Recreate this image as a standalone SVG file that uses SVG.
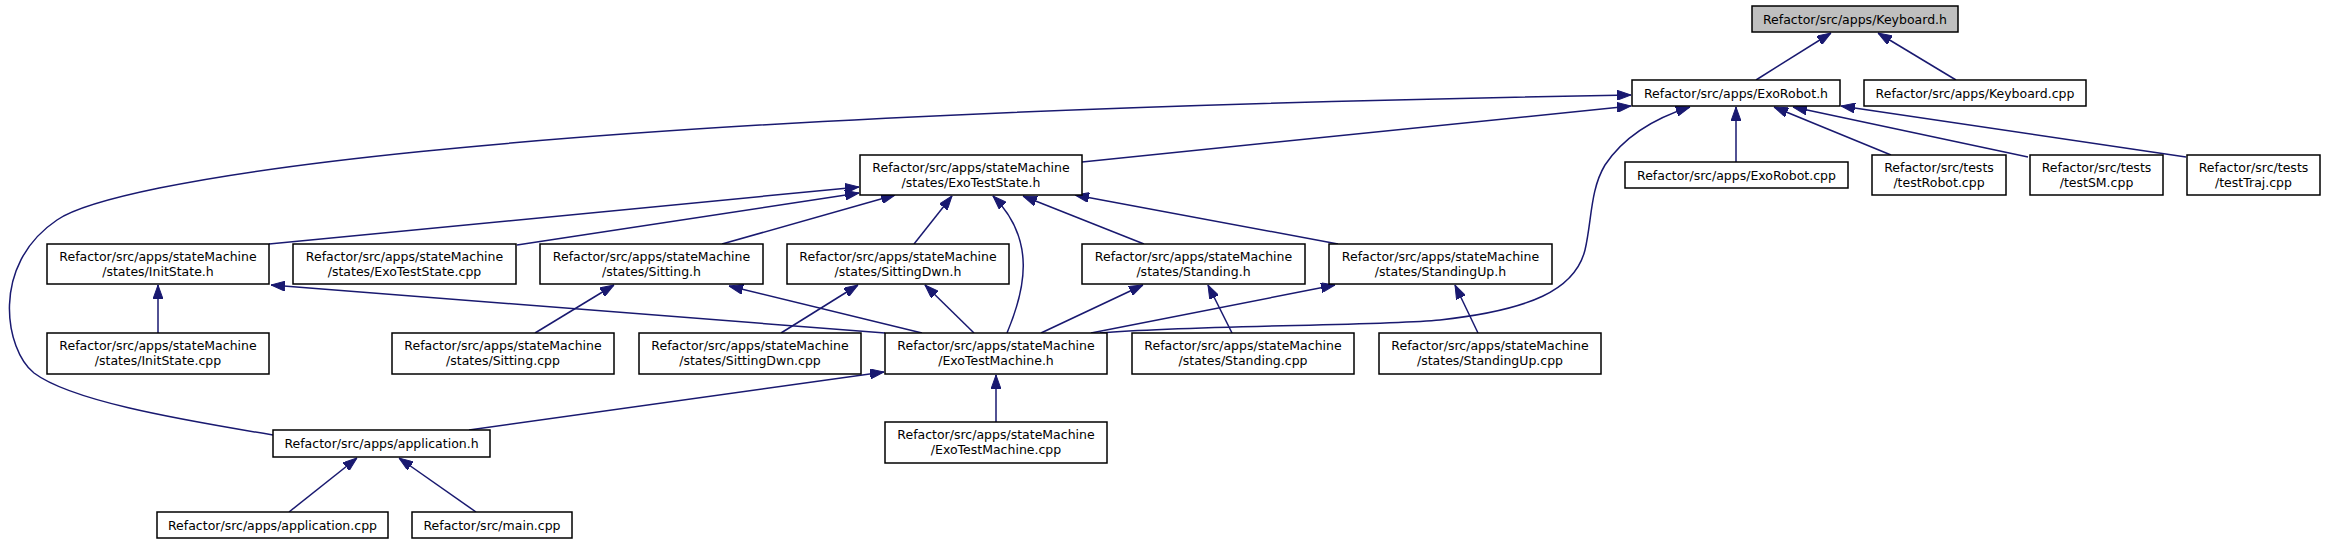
<svg xmlns="http://www.w3.org/2000/svg" width="2326" height="544" viewBox="0 0 2326 544">
<style>
.n rect{fill:#fff;stroke:#000;stroke-width:1.5}
.n.g rect{fill:#bfbfbf}
.n text{font-family:"DejaVu Sans",sans-serif;font-size:12.5px;text-anchor:middle;fill:#000}
.e path{fill:none;stroke:#191970;stroke-width:1.5;marker-end:url(#a)}
</style>
<defs>
<marker id="a" viewBox="0 0 14 10" refX="14" refY="5" markerWidth="14" markerHeight="10" markerUnits="userSpaceOnUse" orient="auto">
<path d="M0,0 L14,5 L0,10 z" fill="#191970" stroke="#191970" stroke-width="1"/>
</marker>
</defs>
<rect width="2326" height="544" fill="#fff"/>
<g class="e" id="edges">
<path d="M1756,80 L1831,33"/>
<path d="M1956,80 L1878,33"/>
<path d="M273,435 C170,418 70,400 34,373 C5,350 -10,265 57,220 C110,184 450,115 1631,95"/>
<path d="M1082,162 L1631,106"/>
<path d="M1100,333 C1200,325 1380,326 1440,320 C1530,310 1575,290 1585,250 C1592,220 1590,190 1605,165 C1625,135 1655,118 1690,107"/>
<path d="M1736,162 L1736,107"/>
<path d="M1891,155 L1774,107"/>
<path d="M2028,157 L1793,107"/>
<path d="M2186,157 L1841,106"/>
<path d="M269,244 L859,187"/>
<path d="M517,245 L859,193"/>
<path d="M722,244 L895,195"/>
<path d="M914,244 L952,196"/>
<path d="M1007,333 C1025,290 1037,240 993,196"/>
<path d="M1144,244 L1023,196"/>
<path d="M1338,244 L1075,195"/>
<path d="M158,333 L158,285"/>
<path d="M885,333 L271,285"/>
<path d="M535,333 L614,285"/>
<path d="M922,333 L729,286"/>
<path d="M781,333 L858,285"/>
<path d="M974,333 L925,285"/>
<path d="M1041,333 L1143,285"/>
<path d="M1232,333 L1208,285"/>
<path d="M1091,333 L1335,285"/>
<path d="M1478,333 L1455,285"/>
<path d="M469,430 L884,372"/>
<path d="M996,422 L996,375"/>
<path d="M289,512 L357,458"/>
<path d="M476,512 L399,458"/>
</g>
<g class="n g" id="keyboard_h"><rect x="1752" y="6" width="206" height="26"/><text x="1855" y="23.5">Refactor/src/apps/Keyboard.h</text></g>
<g class="n" id="exorobot_h"><rect x="1632" y="80" width="208" height="26"/><text x="1736" y="97.5">Refactor/src/apps/ExoRobot.h</text></g>
<g class="n" id="keyboard_cpp"><rect x="1864" y="80" width="222" height="26"/><text x="1975" y="97.5">Refactor/src/apps/Keyboard.cpp</text></g>
<g class="n" id="exorobot_cpp"><rect x="1625" y="162" width="223" height="26"/><text x="1736.5" y="179.5">Refactor/src/apps/ExoRobot.cpp</text></g>
<g class="n" id="testrobot_cpp"><rect x="1872" y="155" width="134" height="40"/><text x="1939" y="172">Refactor/src/tests</text><text x="1939" y="187">/testRobot.cpp</text></g>
<g class="n" id="testsm_cpp"><rect x="2030" y="155" width="133" height="40"/><text x="2096.5" y="172">Refactor/src/tests</text><text x="2096.5" y="187">/testSM.cpp</text></g>
<g class="n" id="testtraj_cpp"><rect x="2187" y="155" width="133" height="40"/><text x="2253.5" y="172">Refactor/src/tests</text><text x="2253.5" y="187">/testTraj.cpp</text></g>
<g class="n" id="exoteststate_h"><rect x="860" y="155" width="222" height="40"/><text x="971" y="172">Refactor/src/apps/stateMachine</text><text x="971" y="187">/states/ExoTestState.h</text></g>
<g class="n" id="initstate_h"><rect x="47" y="244" width="222" height="40"/><text x="158" y="261">Refactor/src/apps/stateMachine</text><text x="158" y="276">/states/InitState.h</text></g>
<g class="n" id="exoteststate_cpp"><rect x="293" y="244" width="223" height="40"/><text x="404.5" y="261">Refactor/src/apps/stateMachine</text><text x="404.5" y="276">/states/ExoTestState.cpp</text></g>
<g class="n" id="sitting_h"><rect x="540" y="244" width="223" height="40"/><text x="651.5" y="261">Refactor/src/apps/stateMachine</text><text x="651.5" y="276">/states/Sitting.h</text></g>
<g class="n" id="sittingdwn_h"><rect x="787" y="244" width="222" height="40"/><text x="898" y="261">Refactor/src/apps/stateMachine</text><text x="898" y="276">/states/SittingDwn.h</text></g>
<g class="n" id="standing_h"><rect x="1082" y="244" width="223" height="40"/><text x="1193.5" y="261">Refactor/src/apps/stateMachine</text><text x="1193.5" y="276">/states/Standing.h</text></g>
<g class="n" id="standingup_h"><rect x="1329" y="244" width="223" height="40"/><text x="1440.5" y="261">Refactor/src/apps/stateMachine</text><text x="1440.5" y="276">/states/StandingUp.h</text></g>
<g class="n" id="initstate_cpp"><rect x="47" y="333" width="222" height="41"/><text x="158" y="350">Refactor/src/apps/stateMachine</text><text x="158" y="365">/states/InitState.cpp</text></g>
<g class="n" id="sitting_cpp"><rect x="392" y="333" width="222" height="41"/><text x="503" y="350">Refactor/src/apps/stateMachine</text><text x="503" y="365">/states/Sitting.cpp</text></g>
<g class="n" id="sittingdwn_cpp"><rect x="639" y="333" width="222" height="41"/><text x="750" y="350">Refactor/src/apps/stateMachine</text><text x="750" y="365">/states/SittingDwn.cpp</text></g>
<g class="n" id="exotestmachine_h"><rect x="885" y="333" width="222" height="41"/><text x="996" y="350">Refactor/src/apps/stateMachine</text><text x="996" y="365">/ExoTestMachine.h</text></g>
<g class="n" id="standing_cpp"><rect x="1132" y="333" width="222" height="41"/><text x="1243" y="350">Refactor/src/apps/stateMachine</text><text x="1243" y="365">/states/Standing.cpp</text></g>
<g class="n" id="standingup_cpp"><rect x="1379" y="333" width="222" height="41"/><text x="1490" y="350">Refactor/src/apps/stateMachine</text><text x="1490" y="365">/states/StandingUp.cpp</text></g>
<g class="n" id="application_h"><rect x="273" y="430" width="217" height="27"/><text x="381.5" y="448">Refactor/src/apps/application.h</text></g>
<g class="n" id="exotestmachine_cpp"><rect x="885" y="422" width="222" height="41"/><text x="996" y="439">Refactor/src/apps/stateMachine</text><text x="996" y="454">/ExoTestMachine.cpp</text></g>
<g class="n" id="application_cpp"><rect x="157" y="512" width="231" height="26"/><text x="272.5" y="529.5">Refactor/src/apps/application.cpp</text></g>
<g class="n" id="main_cpp"><rect x="412" y="512" width="160" height="26"/><text x="492" y="529.5">Refactor/src/main.cpp</text></g>
</svg>
